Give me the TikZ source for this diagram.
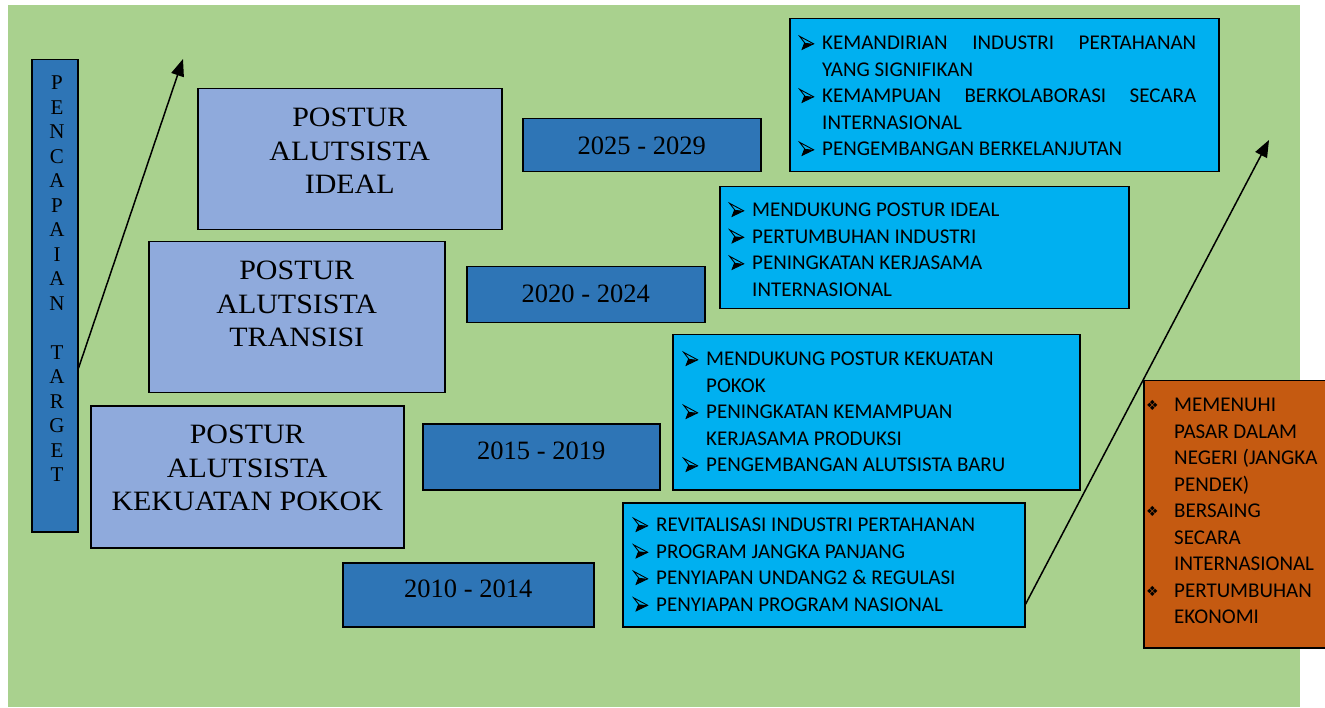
\documentclass[tikz,border=0pt]{standalone}
\usepackage{fontspec}
\setmainfont{Liberation Serif}
\newfontfamily\serifwide[FakeStretch=1.07]{Liberation Serif}
\newfontfamily\calfont{Carlito}
\newfontfamily\symfont{DejaVu Sans}
\usetikzlibrary{arrows.meta,calc}
\definecolor{bggreen}{HTML}{A9D18E}
\definecolor{darkblue}{HTML}{2E75B6}
\definecolor{lightblue}{HTML}{8FAADC}
\definecolor{cyanbox}{HTML}{00B0F0}
\definecolor{orangebox}{HTML}{C55A11}
\newcommand{\arrowglyph}{\begin{tikzpicture}[x=1pt,y=1pt,baseline={(0,0.5)}]
  \fill[black] (5,6.5) -- (14,5.5) -- (2.5,0) -- cycle;
  \draw[black, line width=0.9pt, line join=miter] (0,13) -- (14,5.5) -- (2.5,0) -- (5,6.5) -- cycle;
\end{tikzpicture}}
\newcommand{\arrb}{\makebox[23pt][l]{\smash{\arrowglyph}}}
\newcommand{\dmb}{\makebox[28pt][l]{\smash{\raisebox{1pt}{\symfont\fontsize{14}{14}\selectfont ❖}}}}
\newcommand{\indA}{\hspace*{23pt}}
\newcommand{\indB}{\hspace*{28pt}}
\tikzset{
  box/.style={draw=black, line width=1.5pt, rectangle, inner sep=0pt, anchor=north west},
  serifbig/.style={inner sep=0pt, anchor=north, align=center, font=\serifwide\fontsize{28}{33.5}\selectfont},
  yeartext/.style={inner sep=0pt, anchor=north, font=\fontsize{26.5}{30}\selectfont},
  listtext/.style={inner sep=0pt, anchor=north west, align=left, font=\calfont\fontsize{21}{26.5}\selectfont},
  arrowline/.style={line width=1.5pt, -{Triangle[length=17pt,width=13pt]}}
}
\begin{document}
\begin{tikzpicture}[x=1pt,y=-1pt]
\useasboundingbox (0,0) rectangle (1325,708);
\fill[bggreen] (8,5) rectangle (1300,707);

% left vertical box
\node[box, fill=darkblue, minimum width=46pt, minimum height=472pt] (pen) at (31,59) {};
\node[inner sep=0pt, anchor=north, align=center, font=\fontsize{21}{24.5}\selectfont] (pentext) at (57,76)
  {P\\E\\N\\C\\A\\P\\A\\I\\A\\N\\\mbox{}\\T\\A\\R\\G\\E\\T};

% postur boxes
\node[box, fill=lightblue, minimum width=304pt, minimum height=141pt] (ideal) at (197,88) {};
\node[serifbig, yshift=-20pt] (idealtext) at (ideal.north) {POSTUR\\ALUTSISTA\\IDEAL};
\node[box, fill=lightblue, minimum width=296pt, minimum height=151pt] (transisi) at (148,241) {};
\node[serifbig, yshift=-20pt] (transisitext) at (transisi.north) {POSTUR\\ALUTSISTA\\TRANSISI};
\node[box, fill=lightblue, minimum width=313pt, minimum height=142pt] (pokok) at (90,405) {};
\node[serifbig, yshift=-20pt] (pokoktext) at (pokok.north) {POSTUR\\ALUTSISTA\\KEKUATAN POKOK};

% year boxes
\node[box, fill=darkblue, minimum width=238pt, minimum height=53pt] (y25) at (522,118) {};
\node[yeartext, yshift=-19pt] (y25text) at (y25.north) {2025 - 2029};
\node[box, fill=darkblue, minimum width=238pt, minimum height=56pt] (y20) at (466,266) {};
\node[yeartext, yshift=-19pt] (y20text) at (y20.north) {2020 - 2024};
\node[box, fill=darkblue, minimum width=237pt, minimum height=66pt] (y15) at (422,423) {};
\node[yeartext, yshift=-19pt] (y15text) at (y15.north) {2015 - 2019};
\node[box, fill=darkblue, minimum width=251pt, minimum height=64pt] (y10) at (342,562) {};
\node[yeartext, yshift=-18pt] (y10text) at (y10.north) {2010 - 2014};

% list boxes
\node[box, fill=cyanbox, minimum width=429pt, minimum height=153pt] (b1) at (789,18) {};
\node[listtext] (b1text) at (799,36) {%
  \arrb\makebox[374pt][s]{KEMANDIRIAN\hfill INDUSTRI\hfill PERTAHANAN}\\
  \indA YANG SIGNIFIKAN\\
  \arrb\makebox[374pt][s]{KEMAMPUAN\hfill BERKOLABORASI\hfill SECARA}\\
  \indA INTERNASIONAL\\
  \arrb PENGEMBANGAN BERKELANJUTAN};

\node[box, fill=cyanbox, minimum width=409pt, minimum height=122pt] (b2) at (719,186) {};
\node[listtext] (b2text) at (729,203) {%
  \arrb MENDUKUNG POSTUR IDEAL\\
  \arrb PERTUMBUHAN INDUSTRI\\
  \arrb PENINGKATAN KERJASAMA\\
  \indA INTERNASIONAL};

\node[box, fill=cyanbox, minimum width=407pt, minimum height=155pt] (b3) at (672,334) {};
\node[listtext] (b3text) at (683,352) {%
  \arrb MENDUKUNG POSTUR KEKUATAN\\
  \indA POKOK\\
  \arrb PENINGKATAN KEMAMPUAN\\
  \indA KERJASAMA PRODUKSI\\
  \arrb PENGEMBANGAN ALUTSISTA BARU};

\node[box, fill=cyanbox, minimum width=402pt, minimum height=124pt] (b4) at (622,502) {};
\node[listtext] (b4text) at (633,518) {%
  \arrb REVITALISASI INDUSTRI PERTAHANAN\\
  \arrb PROGRAM JANGKA PANJANG\\
  \arrb PENYIAPAN UNDANG2 \& REGULASI\\
  \arrb PENYIAPAN PROGRAM NASIONAL};

\node[box, fill=orangebox, minimum width=190pt, minimum height=267pt] (ob) at (1143,380) {};
\node[listtext] (obtext) at (1146,398) {%
  \dmb MEMENUHI\\
  \indB PASAR DALAM\\
  \indB NEGERI (JANGKA\\
  \indB PENDEK)\\
  \dmb BERSAING\\
  \indB SECARA\\
  \indB INTERNASIONAL\\
  \dmb PERTUMBUHAN\\
  \indB EKONOMI};

% arrows
\coordinate (tipA) at (183,59);
\coordinate (tipB) at (1269,140);
\draw[arrowline] ($(pen.north east)!0.653!(pen.south east)$) -- (tipA);
\draw[arrowline] ($(b4.north east)!0.815!(b4.south east)$) -- (tipB);
\end{tikzpicture}
\end{document}
